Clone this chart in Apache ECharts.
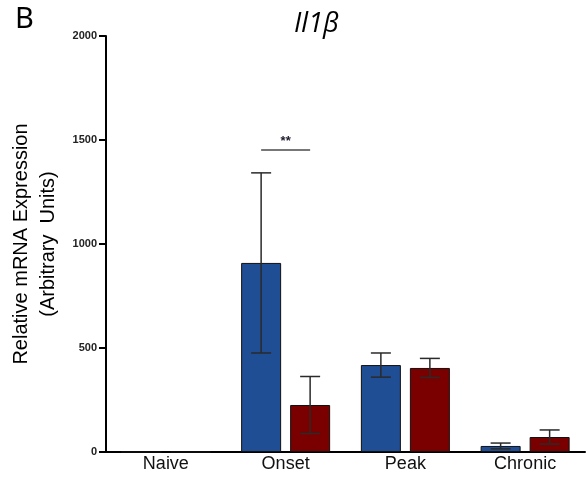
<!DOCTYPE html>
<html>
<head>
<meta charset="utf-8">
<script src="https://cdn.jsdelivr.net/npm/echarts@6/dist/echarts.min.js"></script>
<style>
  html, body { margin: 0; padding: 0; background: #fff; }
  #chart { width: 586px; height: 478px; }
</style>
</head>
<body>
<div id="chart"></div>
<script>
// Il1b relative expression across disease stages (mean ± SD)
const categories = ['Naive', 'Onset', 'Peak', 'Chronic'];
const blueMeans = [0, 909, 418, 29];
const blueSD = [0, 433, 58, 14];
const redMeans = [0, 226, 404, 72];
const redSD = [0, 137, 46, 34];
const yTicks = [0, 500, 1000, 1500, 2000];
// significance bracket over Onset
const sigCategory = 1;
const sigLevel = 1452;
const sigText = '**';

const BLUE = '#204E94';
const RED = '#7A0000';
const BAR_W = 40;
const BAR_GAP = '22.5%';
const OFFSET = 24.5; // half distance between paired bar centres

function errorSeries(means, sds, offset) {
  return {
    type: 'custom',
    z: 10,
    renderItem: function (params, api) {
      const cat = api.value(0);
      const mean = api.value(1);
      const sd = api.value(2);
      if (!sd) return null;
      const top = api.coord([cat, mean + sd]);
      const bot = api.coord([cat, mean - sd]);
      const x = top[0] + offset;
      const hw = 10;
      const style = { stroke: '#2a2a2a', lineWidth: 1.5, fill: null };
      return {
        type: 'group',
        children: [
          { type: 'line', shape: { x1: x, y1: top[1], x2: x, y2: bot[1] }, style: style },
          { type: 'line', shape: { x1: x - hw, y1: top[1], x2: x + hw, y2: top[1] }, style: style },
          { type: 'line', shape: { x1: x - hw, y1: bot[1], x2: x + hw, y2: bot[1] }, style: style }
        ]
      };
    },
    data: means.map((m, i) => [i, m, sds[i]])
  };
}

const chart = echarts.init(document.getElementById('chart'), null, { renderer: 'canvas' });
chart.setOption({
  animation: false,
  backgroundColor: '#fff',
  title: [
    {
      text: 'B', left: 10, top: 0,
      textStyle: { fontFamily: 'Noto Sans', fontWeight: 'normal', fontSize: 29, color: '#000' }
    },
    {
      text: 'Il1β', left: 289, top: 6,
      textStyle: { fontFamily: 'Open Sans', fontStyle: 'italic', fontWeight: 'normal', fontSize: 27, color: '#000' }
    }
  ],
  grid: { left: 106, right: 1, top: 36, bottom: 26, containLabel: false, outerBoundsMode: 'none' },
  xAxis: {
    type: 'category',
    data: categories,
    axisLine: { lineStyle: { color: '#000', width: 2 } },
    axisTick: { show: false },
    axisLabel: { fontFamily: 'Liberation Sans', fontSize: 18, color: '#111', margin: 3 }
  },
  yAxis: {
    type: 'value',
    min: yTicks[0],
    max: yTicks[yTicks.length - 1],
    interval: yTicks[1] - yTicks[0],
    name: 'Relative mRNA Expression\n(Arbitrary  Units)',
    nameLocation: 'middle',
    nameGap: 44,
    nameRotate: 90,
    nameTextStyle: { fontFamily: 'Liberation Sans', fontSize: 20, color: '#000', lineHeight: 27 },
    axisLine: { show: true, lineStyle: { color: '#000', width: 2 } },
    axisTick: { show: true, length: 7, lineStyle: { color: '#000', width: 2 } },
    axisLabel: {
      fontFamily: 'Liberation Sans', fontWeight: 'bold', fontSize: 11, color: '#222', margin: 9,
      formatter: function (v) { return String(v); }
    },
    splitLine: { show: false }
  },
  series: [
    {
      type: 'bar',
      data: blueMeans,
      barWidth: BAR_W,
      barGap: BAR_GAP,
      itemStyle: { color: BLUE, borderColor: '#111', borderWidth: 1 }
    },
    {
      type: 'bar',
      data: redMeans,
      barWidth: BAR_W,
      barGap: BAR_GAP,
      itemStyle: { color: RED, borderColor: '#111', borderWidth: 1 }
    },
    errorSeries(blueMeans, blueSD, -OFFSET),
    errorSeries(redMeans, redSD, OFFSET),
    {
      type: 'custom',
      z: 11,
      renderItem: function (params, api) {
        const p = api.coord([api.value(0), api.value(1)]);
        return {
          type: 'group',
          children: [
            { type: 'line', shape: { x1: p[0] - OFFSET, y1: p[1], x2: p[0] + OFFSET, y2: p[1] },
              style: { stroke: '#777', lineWidth: 2 } },
            { type: 'text', x: p[0], y: p[1] - 2,
              style: { text: sigText, align: 'center', verticalAlign: 'bottom',
                       font: 'bold 13px "Liberation Sans"', fill: '#1a1a2e' } }
          ]
        };
      },
      data: [[sigCategory, sigLevel]]
    }
  ]
});
</script>
</body>
</html>
